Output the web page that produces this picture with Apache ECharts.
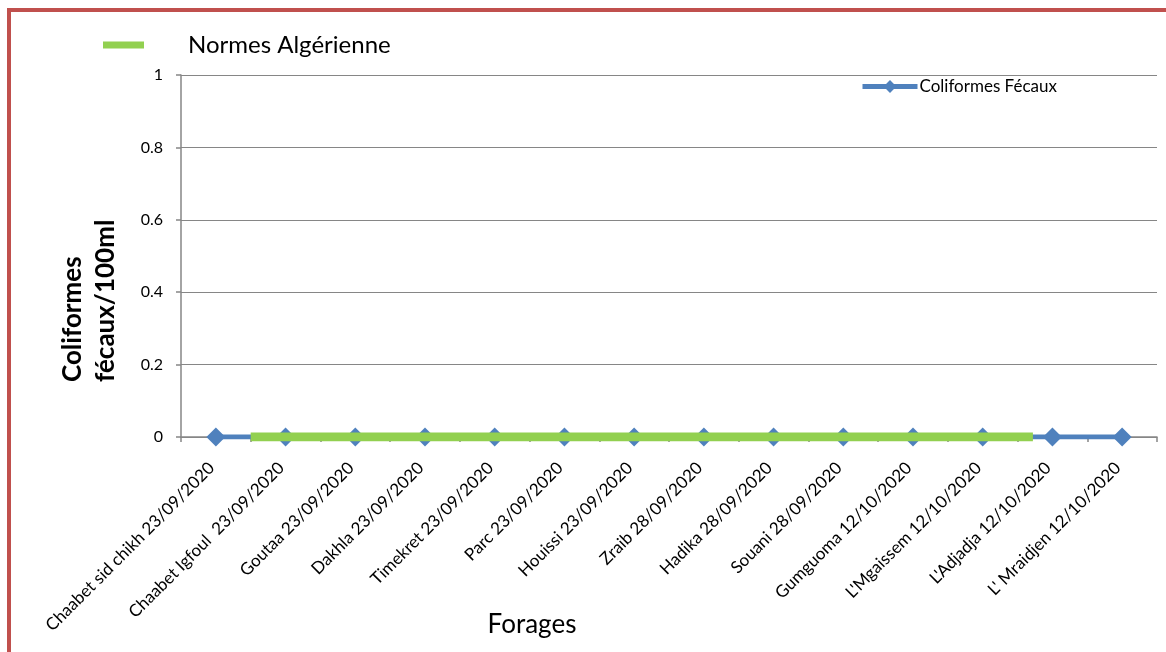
<!DOCTYPE html>
<html>
<head>
<meta charset="utf-8">
<script src="https://cdn.jsdelivr.net/npm/echarts@6/dist/echarts.min.js"></script>
<style>
  html, body { margin: 0; padding: 0; overflow: hidden; background: #fff; }
  #chart { width: 1166px; height: 652px; }
  #frame {
    position: absolute; left: 7px; top: 8px; width: 1200px; height: 700px;
    border-left: 4px solid #c0504d; border-top: 4px solid #c0504d;
    pointer-events: none;
  }
</style>
</head>
<body>
<div id="chart"></div>
<div id="frame"></div>
<script>
const categories = [
  'Chaabet sid chikh 23/09/2020', 'Chaabet Igfoul  23/09/2020', 'Goutaa 23/09/2020',
  'Dakhla 23/09/2020', 'Timekret 23/09/2020', 'Parc 23/09/2020', 'Houissi 23/09/2020',
  'Zraib 28/09/2020', 'Hadika 28/09/2020', 'Souani 28/09/2020', 'Gumguoma 12/10/2020',
  "L'Mgaissem 12/10/2020", "L'Adjadja 12/10/2020", "L' Mraidjen 12/10/2020"
]
const coliformesFecaux = [0, 0, 0, 0, 0, 0, 0, 0, 0, 0, 0, 0, 0, 0]
// norm line: start / end positions in category units, value 0
const normeStart = [0.5, 0]
const normeEnd = [11.72, 0]

const font = 'Lato, "Open Sans", sans-serif'
const gray = '#868686'

const chart = echarts.init(document.getElementById('chart'))

chart.setOption({
  animation: false,
  textStyle: { fontFamily: font, color: '#000' },
  grid: { left: 181, right: 9, top: 75, bottom: 215 },
  legend: [
    {
      data: ['Normes Algérienne'],
      left: 98, top: 28,
      icon: 'rect', itemWidth: 41, itemHeight: 7,
      textStyle: { fontSize: 24, color: '#000', padding: [0, 0, 0, 39] },
    },
    {
      data: ['Coliformes Fécaux'],
      left: 855, top: 73,
      itemWidth: 55, itemHeight: 16, itemGap: 0,
      lineStyle: { width: 5 },
      textStyle: { fontSize: 17, color: '#000', padding: [0, 0, 0, -3] },
    },
  ],
  xAxis: [
    {
      type: 'category',
      data: categories,
      boundaryGap: true,
      axisLine: { lineStyle: { color: gray, width: 1.5 } },
      axisTick: { show: true, length: 5, lineStyle: { color: gray, width: 1.5 } },
      axisLabel: {
        rotate: 45, fontSize: 17, color: '#000', margin: 24, interval: 0,
        padding: [0, 6, 0, 0],
      },
    },
    {
      type: 'value',
      min: -0.5, max: 13.5,
      show: false,
    },
  ],
  yAxis: {
    type: 'value',
    min: 0, max: 1, interval: 0.2,
    axisLine: { show: true, onZero: false, lineStyle: { color: gray, width: 1.5 } },
    axisTick: { show: true, length: 5, lineStyle: { color: gray, width: 1.5 } },
    splitLine: { lineStyle: { color: gray, width: 1 } },
    axisLabel: { fontSize: 16, color: '#000', margin: 18 },
  },
  series: [
    {
      name: 'Coliformes Fécaux',
      type: 'line',
      data: coliformesFecaux,
      symbol: 'diamond',
      symbolSize: 19,
      itemStyle: { color: '#4f81bd' },
      lineStyle: { color: '#4f81bd', width: 5 },
      z: 2,
    },
    {
      name: 'Normes Algérienne',
      type: 'line',
      xAxisIndex: 1,
      data: [normeStart, normeEnd],
      showSymbol: false,
      symbol: 'none',
      itemStyle: { color: '#92d050' },
      lineStyle: { color: '#92d050', width: 9 },
      z: 3,
    },
  ],
  graphic: [
    {
      type: 'text',
      x: 89, y: 382,
      rotation: Math.PI / 2,
      style: {
        text: 'Coliformes\nfécaux/100ml',
        font: 'bold 26px ' + font,
        fill: '#000',
        align: 'left',
        verticalAlign: 'middle',
        lineHeight: 33,
      },
    },
    {
      type: 'text',
      x: 532, y: 625,
      style: {
        text: 'Forages',
        font: '26px ' + font,
        fill: '#000',
        align: 'center',
        verticalAlign: 'middle',
      },
    },
  ],
})
</script>
</body>
</html>
